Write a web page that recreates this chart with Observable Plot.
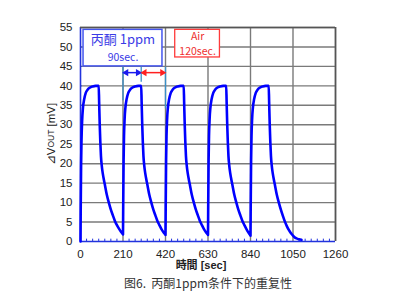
<!DOCTYPE html>
<html>
<head>
<meta charset="utf-8">
<script src="https://cdn.jsdelivr.net/npm/d3@7"></script>
<script src="https://cdn.jsdelivr.net/npm/@observablehq/plot@0.6"></script>
<style>
  html, body { margin: 0; padding: 0; background: #fff; }
  svg { display: block; }
</style>
</head>
<body>
<div id="chart"></div>
<script>
// Time [sec] and ΔVout [mV]
const cycle1 = [[0,0],[1,8],[3,20],[5,26],[8,31],[12,34.3],[18,36.5],[26,38.2],[35,39],[45,39.5],[60,39.85],[75,40],[90,40],[92,36],[95,30],[98,25.5],[101,22],[105,19.5],[110,17.5],[115,16],[120,14.7],[130,12],[140,10],[150,8.2],[160,6.7],[170,5.3],[180,4.2],[190,3.3],[200,2.5],[209,1.9]];
const cycle2 = [[210,1.8],[211,9],[213,21],[215,27],[218,31.5],[222,34.5],[228,36.6],[236,38.2],[245,39],[255,39.5],[270,39.85],[285,40],[300,40],[302,36],[305,30],[308,25.5],[311,22],[315,19.5],[320,17.5],[325,16],[330,14.7],[340,12],[350,10],[360,8.2],[370,6.7],[380,5.3],[390,4.2],[400,3.2],[410,2.4],[419,1.8]];
const cycle3 = [[420,1.7],[421,9],[423,21],[425,27],[428,31.5],[432,34.5],[438,36.6],[446,38.2],[455,39],[465,39.5],[480,39.85],[495,40],[510,40],[512,36],[515,30],[518,25.5],[521,22],[525,19.5],[530,17.5],[535,16],[540,14.7],[550,12],[560,10],[570,8.2],[580,6.7],[590,5.3],[600,4.2],[610,3.2],[620,2.4],[629,1.8]];
const cycle4 = [[630,1.7],[631,9],[633,21],[635,27],[638,31.5],[642,34.5],[648,36.6],[656,38.2],[665,39],[675,39.5],[690,39.85],[705,40],[720,40],[722,36],[725,30],[728,25.5],[731,22],[735,19.5],[740,17.5],[745,16],[750,14.7],[760,12],[770,10],[780,8.2],[790,6.7],[800,5.3],[810,4.2],[820,3.2],[830,2.3],[839,1.6]];
const cycle5 = [[840,1.5],[841,9],[843,21],[845,27],[848,31.5],[852,34.5],[858,36.6],[866,38.2],[875,39],[885,39.5],[900,39.85],[915,40],[930,40],[932,36],[935,30],[938,25.5],[941,22],[945,19.5],[950,17.5],[955,16],[960,14.7],[970,12],[980,10],[990,8.2],[1000,6.6],[1010,5.1],[1020,3.9],[1030,2.9],[1040,2.1],[1050,1.5],[1060,1.0],[1070,0.75],[1080,0.55],[1092,0.45]];
const series = [...cycle1, ...cycle2, ...cycle3, ...cycle4, ...cycle5].map(([t, v]) => ({t, v}));

const xTicks = [0, 210, 420, 630, 840, 1050, 1260];
const yTicks = [0, 5, 10, 15, 20, 25, 30, 35, 40, 45, 50, 55];
const minorX = [30,60,90,120,150,180,240,270,300,330,360,390,450,480,510,540,570,600,660,690,720,750,780,810,870,900,930,960,990,1020,1080,1110,1140,1170,1200,1230];

// Annotation values
const boxGas = {x1: 15, x2: 405, y1: 45, y2: 54.4};
const boxAir = {x1: 468, x2: 689, y1: 47.3, y2: 54.4};
const gasLabel = ["丙酮 1ppm", "90sec."];
const airLabel = ["Air", "120sec."];
const markerLines = [{t: 210, y1: 44.8, y2: 36.2}, {t: 300, y1: 44.8, y2: 40.9}, {t: 420, y1: 44.8, y2: 34.1}];
const arrowY = 43.4;
const gasSpan = [210, 300];
const airSpan = [300, 420];

const BLUE = "#0000ff";
const AXISBLUE = "#2233dd";
const GRID = "#7a7a7a";
const BOXBLUE = "#4455ee";
const RED = "#ff3b3b";
const STEEL = "#3a90c8";

const plot = Plot.plot({
  width: 399,
  height: 301,
  marginLeft: 80,
  marginRight: 64,
  marginTop: 27,
  marginBottom: 60,
  style: {fontFamily: "Liberation Sans, Arial, sans-serif", fontSize: "11.5px", color: "#222", background: "#fff"},
  x: {domain: [0, 1260], ticks: xTicks},
  y: {domain: [0, 55], ticks: yTicks},
  marks: [
    // grid
    Plot.ruleX(xTicks.slice(1), {stroke: GRID, strokeWidth: 1.4}),
    Plot.ruleY(yTicks.slice(1), {stroke: GRID, strokeWidth: 1.4}),
    // minor ticks on bottom axis
    Plot.ruleX(minorX, {y1: 0, y2: 0.6, stroke: AXISBLUE, strokeWidth: 1}),
    // axes
    Plot.axisX({ticks: xTicks, tickSize: 0, tickPadding: 8, label: null, fill: "#222", tickFormat: d => String(d)}),
    Plot.axisY({ticks: yTicks, tickSize: 0, tickPadding: 8, label: null, fill: "#222", tickFormat: d => String(d)}),
    Plot.ruleY(yTicks.slice(1), {x1: 0, x2: 8, stroke: AXISBLUE, strokeWidth: 1}),
    Plot.ruleX([0], {stroke: AXISBLUE, strokeWidth: 1.6}),
    Plot.ruleY([0], {stroke: AXISBLUE, strokeWidth: 1.6}),
    // annotation boxes
    Plot.rect([boxGas], {x1: "x1", x2: "x2", y1: "y1", y2: "y2", fill: "#fff", stroke: BOXBLUE, strokeWidth: 1.5}),
    Plot.rect([boxAir], {x1: "x1", x2: "x2", y1: "y1", y2: "y2", fill: "#fff", stroke: RED, strokeWidth: 1.3}),
    Plot.text([gasLabel[0]], {x: (boxGas.x1 + boxGas.x2) / 2, y: 51.9, fill: "#3a3ae6", fontSize: 13, fontFamily: "Noto Sans CJK SC, sans-serif"}),
    Plot.text([gasLabel[1]], {x: (boxGas.x1 + boxGas.x2) / 2, y: 47.3, fill: "#3a3ae6", fontSize: 10.5, fontFamily: "Noto Sans CJK SC, sans-serif"}),
    Plot.text([airLabel[0]], {x: (boxAir.x1 + boxAir.x2) / 2, y: 52.7, fill: "#ee3030", fontSize: 10.5, fontFamily: "Noto Sans CJK SC, sans-serif"}),
    Plot.text([airLabel[1]], {x: (boxAir.x1 + boxAir.x2) / 2, y: 48.8, fill: "#ee3030", fontSize: 10.5, fontFamily: "Noto Sans CJK SC, sans-serif"}),
    // marker lines and arrows
    Plot.ruleX(markerLines, {x: "t", y1: "y1", y2: "y2", stroke: STEEL, strokeWidth: 1.3}),
    Plot.ruleY([arrowY], {x1: gasSpan[0], x2: gasSpan[1], stroke: "#1a1aee", strokeWidth: 1.5, insetLeft: 3, insetRight: 3}),
    Plot.ruleY([arrowY], {x1: airSpan[0], x2: airSpan[1], stroke: "#ff2020", strokeWidth: 1.5, insetLeft: 3, insetRight: 3}),
    Plot.dot([gasSpan[0]], {x: d => d, y: arrowY, rotate: -90, symbol: "triangle2", r: 3.4, fill: "#1a1aee", stroke: "none", dx: 3.2}),
    Plot.dot([gasSpan[1]], {x: d => d, y: arrowY, rotate: 90, symbol: "triangle2", r: 3.4, fill: "#1a1aee", stroke: "none", dx: -3.2}),
    Plot.dot([airSpan[0]], {x: d => d, y: arrowY, rotate: -90, symbol: "triangle2", r: 3.4, fill: "#ff2020", stroke: "none", dx: 3.2}),
    Plot.dot([airSpan[1]], {x: d => d, y: arrowY, rotate: 90, symbol: "triangle2", r: 3.4, fill: "#ff2020", stroke: "none", dx: -3.2}),
    // data line
    Plot.line(series, {x: "t", y: "v", stroke: BLUE, strokeWidth: 2.6, curve: "monotone-x"}),
    // frame top/right
    Plot.ruleY([55], {stroke: "#555", strokeWidth: 1.6}),
    Plot.ruleX([1260], {stroke: "#555", strokeWidth: 1.6}),
    // axis title and caption
    Plot.text(["時間 [sec]"], {frameAnchor: "bottom", dy: 27, dx: -7, fontWeight: "bold", fontSize: 11, fill: "#222", fontFamily: "Liberation Sans, Noto Sans CJK JP, sans-serif"}),
    Plot.text(["图6.  丙酮1ppm条件下的重复性"], {frameAnchor: "bottom", dy: 46, dx: 0, fontSize: 12, fill: "#333", fontFamily: "Noto Sans CJK SC, sans-serif"})
  ]
});

document.getElementById("chart").appendChild(plot);

// Y-axis title with small-caps "OUT"
const svg = d3.select(plot);
const yl = svg.append("text")
  .attr("transform", "translate(52,134) rotate(-90)")
  .attr("text-anchor", "middle")
  .attr("dominant-baseline", "middle")
  .attr("fill", "#222")
  .attr("font-family", "Liberation Sans, Arial, sans-serif")
  .attr("font-size", 11.5);
yl.append("tspan").text("⊿V");
yl.append("tspan").attr("font-size", 8.5).text("OUT");
yl.append("tspan").text(" [mV]");
</script>
</body>
</html>
